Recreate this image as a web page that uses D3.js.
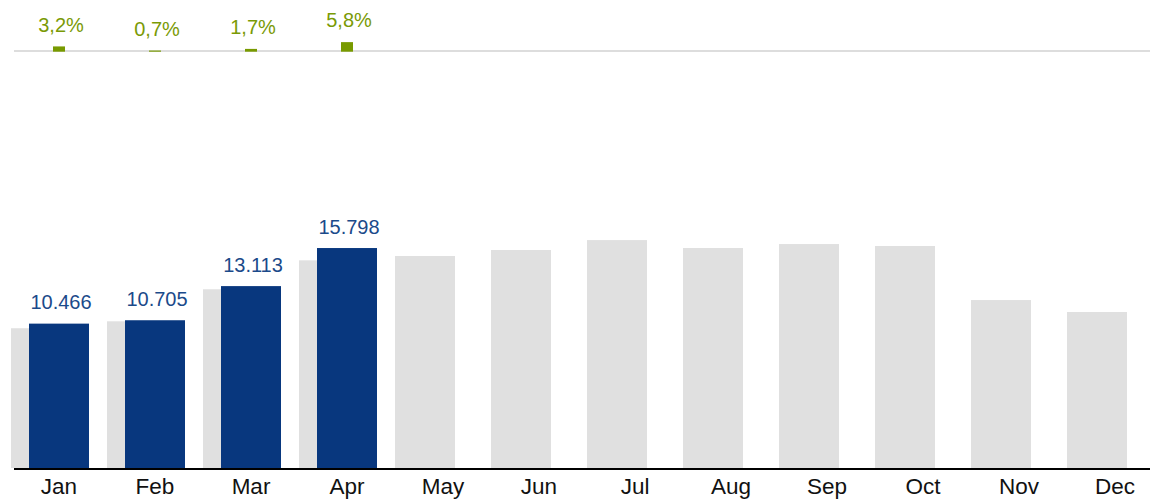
<!DOCTYPE html>
<html>
<head>
<meta charset="utf-8">
<script src="https://cdn.jsdelivr.net/npm/d3@7"></script>
<style>
  html, body { margin: 0; padding: 0; background: #fff; }
  svg { display: block; font-family: "Liberation Sans", Arial, sans-serif; }
</style>
</head>
<body>
<svg id="chart" width="1150" height="500"></svg>
<script>
// ---- data ----
const months = ["Jan", "Feb", "Mar", "Apr", "May", "Jun", "Jul", "Aug", "Sep", "Oct", "Nov", "Dec"];
const previousYear = [10140, 10630, 12890, 14930, 15235, 15660, 16360, 15800, 16080, 15940, 12130, 11285];
const currentMonths = ["Jan", "Feb", "Mar", "Apr"];
const currentYear = [10466, 10705, 13113, 15798];
const currentLabels = ["10.466", "10.705", "13.113", "15.798"];
const growth = [3.2, 0.7, 1.7, 5.8];
const growthLabels = ["3,2%", "0,7%", "1,7%", "5,8%"];

// ---- layout ----
const W = 1150, H = 500;
const barW = 60, offset = 18;
const axisY = 469;
const svg = d3.select("#chart");

const x = d3.scaleBand().domain(months).range([11, 11 + 96 * 12]).padding(0);
const y = d3.scaleLinear().domain([0, 30000]).range([472, 46.7]);
const g = d3.scaleLinear().domain([0, 10]).range([51.7, 35.2]);

// top reference line for growth
svg.append("line")
  .attr("x1", 14).attr("x2", W)
  .attr("y1", 51).attr("y2", 51)
  .attr("stroke", "#dddddd").attr("stroke-width", 2);

// previous year bars (grey)
svg.append("g").selectAll("rect")
  .data(months.map((m, i) => ({ m, v: previousYear[i] })))
  .join("rect")
  .attr("x", d => x(d.m))
  .attr("width", barW)
  .attr("y", d => y(d.v))
  .attr("height", d => axisY - 1 - y(d.v))
  .attr("fill", "#e0e0e0");

// current year bars (blue)
const cur = currentMonths.map((m, i) => ({ m, v: currentYear[i], label: currentLabels[i], gr: growth[i], gl: growthLabels[i] }));
svg.append("g").selectAll("rect")
  .data(cur)
  .join("rect")
  .attr("x", d => x(d.m) + offset)
  .attr("width", barW)
  .attr("y", d => y(d.v))
  .attr("height", d => axisY - 1 - y(d.v))
  .attr("fill", "#08377e");

// value labels
svg.append("g").selectAll("text")
  .data(cur)
  .join("text")
  .attr("x", d => x(d.m) + offset + barW / 2 + 2)
  .attr("y", d => y(d.v) - 14.5)
  .attr("text-anchor", "middle")
  .attr("font-size", 20)
  .attr("fill", "#1b4a8a")
  .text(d => d.label);

// growth bars (green)
svg.append("g").selectAll("rect")
  .data(cur)
  .join("rect")
  .attr("x", d => x(d.m) + offset + barW / 2 - 6)
  .attr("width", 12)
  .attr("y", d => g(d.gr))
  .attr("height", d => g(0) - g(d.gr))
  .attr("fill", "#789a00");

svg.append("g").selectAll("text")
  .data(cur)
  .join("text")
  .attr("x", d => x(d.m) + offset + barW / 2 + 2)
  .attr("y", d => g(d.gr) - 14.8)
  .attr("text-anchor", "middle")
  .attr("font-size", 20)
  .attr("fill", "#7a9a06")
  .text(d => d.gl);

// x axis
const ax = svg.append("g")
  .attr("transform", `translate(0,${axisY})`)
  .call(d3.axisBottom(x).tickSize(0).tickPadding(9));
ax.select(".domain").remove();
ax.selectAll("text")
  .attr("font-size", 22.5)
  .attr("font-family", "\"Liberation Sans\", Arial, sans-serif")
  .attr("fill", "#111");

svg.append("line")
  .attr("x1", 14).attr("x2", W)
  .attr("y1", axisY).attr("y2", axisY)
  .attr("stroke", "#000").attr("stroke-width", 2.2);
</script>
</body>
</html>
